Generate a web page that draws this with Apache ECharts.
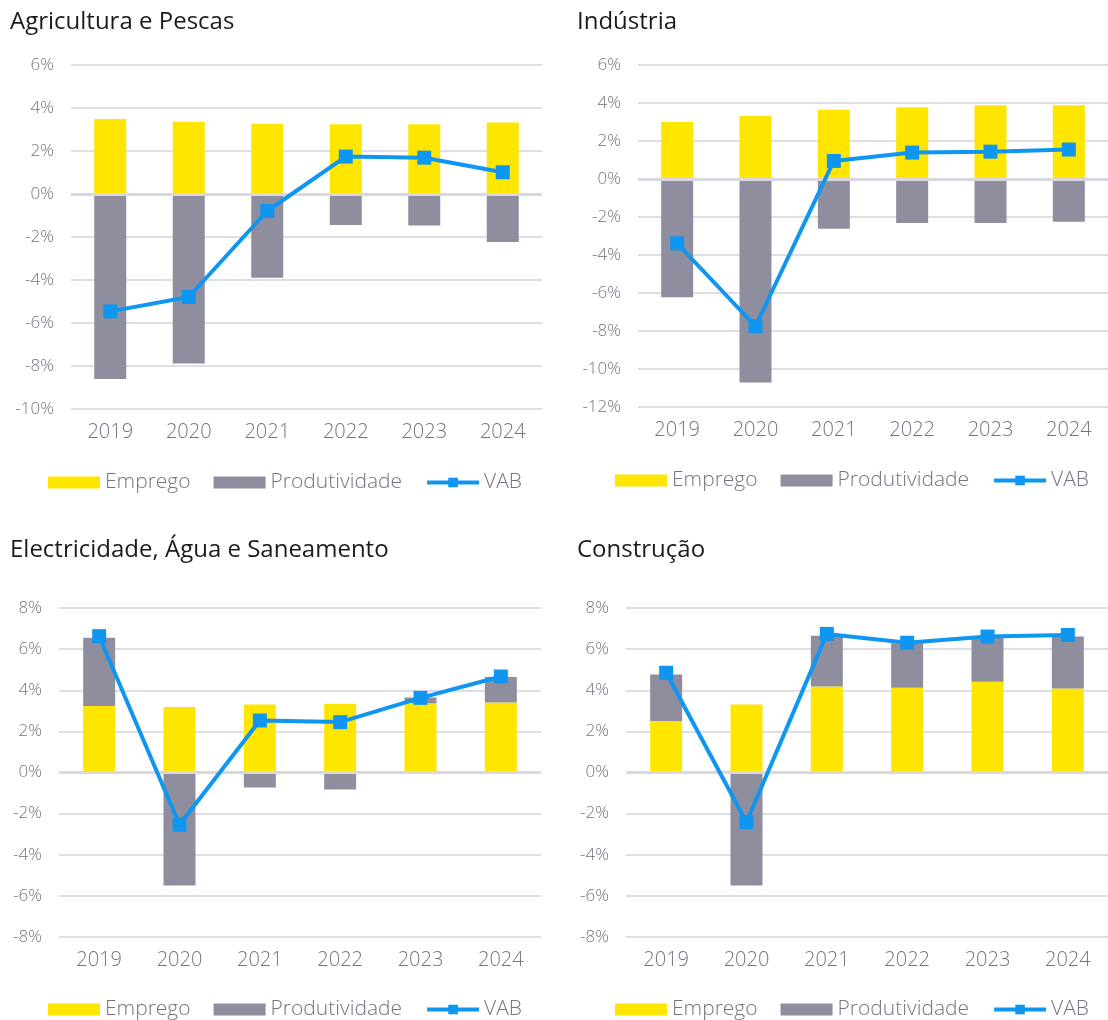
<!DOCTYPE html>
<html>
<head>
<meta charset="utf-8">
<script src="https://cdn.jsdelivr.net/npm/echarts@6/dist/echarts.min.js"></script>
<style>
html,body{margin:0;padding:0;background:#fff;}
#c{width:1108px;height:1020px;}
</style>
</head>
<body>
<div id="c"></div>
<script>
const years = ['2019','2020','2021','2022','2023','2024'];
const titles = ['Agricultura e Pescas','Indústria','Electricidade, Água e Saneamento','Construção'];

const agriEmprego = [3.49, 3.36, 3.27, 3.24, 3.24, 3.32];
const agriProd    = [-8.60, -7.88, -3.89, -1.44, -1.47, -2.23];
const agriVAB     = [-5.46, -4.79, -0.79, 1.74, 1.69, 1.01];

const indEmprego = [3.00, 3.32, 3.64, 3.78, 3.88, 3.88];
const indProd    = [-6.23, -10.71, -2.62, -2.32, -2.32, -2.25];
const indVAB     = [-3.39, -7.75, 0.95, 1.39, 1.44, 1.55];

const eleEmprego = [3.23, 3.19, 3.31, 3.34, 3.37, 3.40];
const eleProd    = [3.32, -5.50, -0.73, -0.83, 0.28, 1.25];
const eleVAB     = [6.63, -2.54, 2.53, 2.45, 3.63, 4.67];

const conEmprego = [2.51, 3.31, 4.18, 4.12, 4.41, 4.08];
const conProd    = [2.26, -5.50, 2.47, 2.17, 2.17, 2.53];
const conVAB     = [4.85, -2.42, 6.74, 6.31, 6.61, 6.69];

const yMin = [-10, -12, -8, -8];
const yMax = [6, 6, 8, 8];

const panels = [
  {e: agriEmprego, p: agriProd, v: agriVAB},
  {e: indEmprego,  p: indProd,  v: indVAB},
  {e: eleEmprego,  p: eleProd,  v: eleVAB},
  {e: conEmprego,  p: conProd,  v: conVAB}
];

const YELLOW = '#FFE600', GREY = '#8F8E9E', BLUE = '#0E96F0';
const TXT = '#747480', FONT = '"Open Sans", Roboto, sans-serif';

const layout = [
  {grid:{left:71, width:471, top:65, height:344}, title:{left:10, top:10}, legend:{left:48, top:472}},
  {grid:{left:638, width:470, top:65, height:342}, title:{left:577, top:10}, legend:{left:615, top:470}},
  {grid:{left:59, width:482, top:608, height:329}, title:{left:10, top:538}, legend:{left:48, top:999}},
  {grid:{left:626, width:482, top:608, height:329}, title:{left:577, top:538}, legend:{left:615, top:999}}
];

const option = {
  animation: false,
  backgroundColor: '#fff',
  title: [], legend: [], grid: [], xAxis: [], yAxis: [], series: []
};

panels.forEach((pd, i) => {
  const L = layout[i];
  option.title.push({
    text: titles[i], left: L.title.left, top: L.title.top, padding: 0,
    textStyle: {fontFamily: FONT, fontSize: 24, fontWeight: 400, color: '#1A1A24'}
  });
  option.grid.push(Object.assign({containLabel: false}, L.grid));
  option.legend.push({
    left: L.legend.left, top: L.legend.top, padding: 0,
    itemWidth: 52, itemHeight: 12, itemGap: 23,
    lineStyle: {width: 4},
    data: [{name:'Emprego', icon:'rect'}, {name:'Produtividade', icon:'rect'}, 'VAB'],
    textStyle: {fontFamily: FONT, fontSize: 21, fontWeight: 300, color: TXT}
  });
  option.xAxis.push({
    type: 'category', data: years, gridIndex: i,
    axisLine: {show: false}, axisTick: {show: false},
    axisLabel: {fontFamily: FONT, fontSize: 20, fontWeight: 300, color: TXT, margin: 13}
  });
  option.yAxis.push({
    type: 'value', gridIndex: i, min: yMin[i], max: yMax[i], interval: 2,
    axisLine: {show: false}, axisTick: {show: false},
    axisLabel: {formatter: '{value}%', fontFamily: FONT, fontSize: 17, fontWeight: 300, color: TXT, margin: 17},
    splitLine: {lineStyle: {color: '#DEDEE4', width: 2}}
  });
  option.series.push({
    name: 'Emprego', type: 'bar', stack: 'st' + i, xAxisIndex: i, yAxisIndex: i,
    data: pd.e, barWidth: 32, itemStyle: {color: YELLOW}, z: 2
  });
  option.series.push({
    name: 'Produtividade', type: 'bar', stack: 'st' + i, xAxisIndex: i, yAxisIndex: i,
    data: pd.p, barWidth: 32, itemStyle: {color: GREY}, z: 2,
    markLine: {
      silent: true, symbol: 'none', label: {show: false},
      lineStyle: {color: '#D8D8DE', width: 3, type: 'solid'},
      emphasis: {disabled: true},
      data: [{yAxis: 0}]
    }
  });
  option.series.push({
    name: 'VAB', type: 'line', xAxisIndex: i, yAxisIndex: i,
    data: pd.v, symbol: 'rect', symbolSize: 14, z: 10,
    lineStyle: {color: BLUE, width: 4},
    itemStyle: {color: BLUE}
  });
});

const chart = echarts.init(document.getElementById('c'), null, {renderer: 'canvas'});
chart.setOption(option);
</script>
</body>
</html>
